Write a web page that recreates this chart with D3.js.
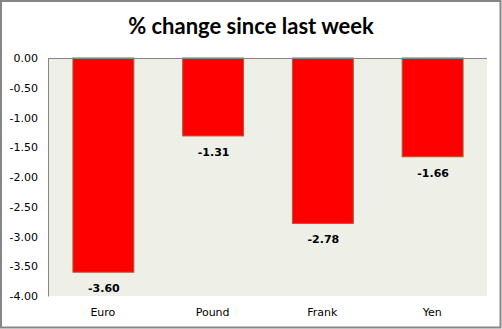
<!DOCTYPE html>
<html>
<head>
<meta charset="utf-8">
<script src="https://cdnjs.cloudflare.com/ajax/libs/d3/7.8.5/d3.min.js"></script>
<style>
  html, body { margin: 0; padding: 0; background: #fff; }
  svg { display: block; }
</style>
</head>
<body>
<div id="chart"></div>
<script>
// Weekly currency moves
const categories = ["Euro", "Pound", "Frank", "Yen"];
const values = [-3.60, -1.31, -2.78, -1.66];
const yTicks = [0, -0.5, -1, -1.5, -2, -2.5, -3, -3.5, -4];
const title = "% change since last week";

const W = 502, H = 329;
const plot = { left: 48, top: 58, right: 487, bottom: 296 };
const font = "Tahoma, Verdana, 'DejaVu Sans', sans-serif";

// two decimals with a plain hyphen for the minus sign
const fmt = (v) => d3.format(".2f")(v).replace("\u2212", "-");

const svg = d3.select("#chart").append("svg")
  .attr("width", W).attr("height", H);

// outer frame
svg.append("rect")
  .attr("x", 1).attr("y", 1).attr("width", W - 2.5).attr("height", H - 2.5)
  .attr("fill", "#fff").attr("stroke", "#868686").attr("stroke-width", 2);

// title
svg.append("text")
  .attr("x", 251).attr("y", 34)
  .attr("text-anchor", "middle")
  .attr("font-family", "Lato, 'Open Sans', sans-serif")
  .attr("font-weight", "bold")
  .attr("font-size", 22)
  .attr("fill", "#000")
  .text(title);

const x = d3.scaleBand()
  .domain(categories)
  .range([plot.left, plot.right])
  .paddingInner(0.445)
  .paddingOuter(0.2225);

const y = d3.scaleLinear()
  .domain([-4, 0])
  .range([plot.bottom, plot.top]);

// plot background
svg.append("rect")
  .attr("x", plot.left).attr("y", plot.top)
  .attr("width", plot.right - plot.left).attr("height", plot.bottom - plot.top)
  .attr("fill", "#eef0e8");

// bars
svg.append("g").selectAll("rect")
  .data(categories)
  .join("rect")
  .attr("x", (d) => x(d) + 0.5)
  .attr("y", y(0))
  .attr("width", x.bandwidth())
  .attr("height", (d, i) => y(values[i]) - y(0))
  .attr("fill", "#ff0000")
  .attr("stroke", "#a0603c")
  .attr("stroke-width", 1);

// value labels beneath each bar
svg.append("g").selectAll("text")
  .data(categories)
  .join("text")
  .attr("x", (d) => x(d) + x.bandwidth() / 2 + 1)
  .attr("y", (d, i) => y(values[i]) + 20)
  .attr("text-anchor", "middle")
  .attr("font-family", font)
  .attr("font-weight", "bold")
  .attr("font-size", 11)
  .attr("fill", "#000")
  .text((d, i) => fmt(values[i]));

// y axis
const yAxis = d3.axisLeft(y)
  .tickValues(yTicks)
  .tickFormat(fmt)
  .tickSize(0)
  .tickPadding(10);
const gy = svg.append("g")
  .attr("transform", `translate(${plot.left},0)`)
  .call(yAxis);
gy.select(".domain").attr("stroke", "#868686");
gy.selectAll("text")
  .attr("font-family", font)
  .attr("font-size", 11)
  .attr("fill", "#000");

// category axis along the zero line
svg.append("line")
  .attr("x1", plot.left).attr("x2", plot.right)
  .attr("y1", y(0) + 0.5).attr("y2", y(0) + 0.5)
  .attr("stroke", "#868686");

const xAxis = d3.axisBottom(x).tickSize(0).tickPadding(12);
const gx = svg.append("g")
  .attr("transform", `translate(0,${plot.bottom})`)
  .call(xAxis);
gx.select(".domain").remove();
gx.selectAll("text")
  .attr("font-family", font)
  .attr("font-size", 11)
  .attr("fill", "#000");
</script>
</body>
</html>
